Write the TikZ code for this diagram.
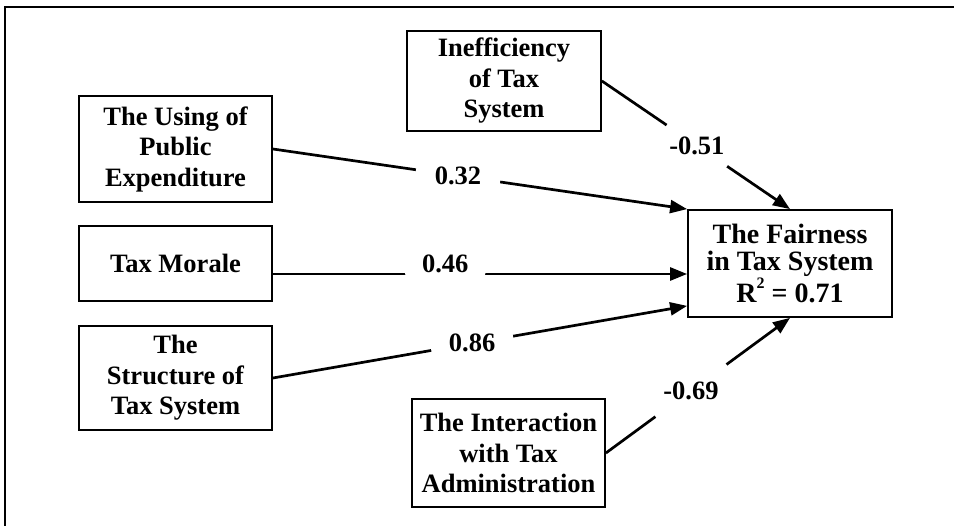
\documentclass[tikz,border=0pt]{standalone}
\usepackage{fontspec}
\setmainfont{Liberation Serif}
\usetikzlibrary{arrows.meta}
\begin{document}
\begin{tikzpicture}[x=1pt,y=-1pt,
  box/.style={draw, line width=1.8pt, inner sep=0pt, align=center,
    font=\bfseries\fontsize{26.5}{30.5}\selectfont},
  conn/.style={line width=2.7pt, -{Triangle[length=17pt,width=13pt]}},
  coef/.style={circle, fill=white, inner sep=0pt,
    font=\bfseries\fontsize{26.5}{30.5}\selectfont}]
\clip (0,0) rectangle (954,526);
\draw[line width=2.4pt] (5,7) rectangle (990,560);
\node[box, minimum width=193pt, minimum height=106pt] (use) at (175.5,149) {The Using of\\Public\\Expenditure};
\node[box, minimum width=193pt, minimum height=75pt] (tm) at (175.5,263.5) {Tax Morale};
\node[box, minimum width=193pt, minimum height=104pt] (str) at (175.5,378) {The\\Structure of\\Tax System};
\node[box, minimum width=194pt, minimum height=100pt] (ineff) at (504,81) {Inefficiency\\of Tax\\System};
\node[box, minimum width=193pt, minimum height=108pt] (inter) at (508.5,453) {The Interaction\\with Tax\\Administration};
\node[box, minimum width=204pt, minimum height=107pt, font=\bfseries\fontsize{28}{27.5}\selectfont] (fair) at (790,263.5) {The Fairness\\in Tax System\\R\raisebox{0.5em}{\fontsize{16}{16}\selectfont 2} = 0.71};
\draw[conn] (use.east) -- node[coef, pos=0.447, minimum size=85pt] {0.32} (fair.north west);
\draw[conn] ([yshift=-10.5pt]tm.east) -- node[coef, pos=0.416, yshift=10pt, minimum size=82.5pt] {0.46} ([yshift=-10.5pt]fair.west);
\draw[conn] (str.east) -- node[coef, pos=0.481, minimum size=83pt] {0.86} ([yshift=12pt]fair.south west);
\draw[conn] (ineff.east) -- node[coef, pos=0.505, minimum size=73pt] {-0.51} (fair.north);
\draw[conn] (inter.east) -- node[coef, pos=0.462, minimum size=88pt] {-0.69} (fair.south);
\end{tikzpicture}
\end{document}
